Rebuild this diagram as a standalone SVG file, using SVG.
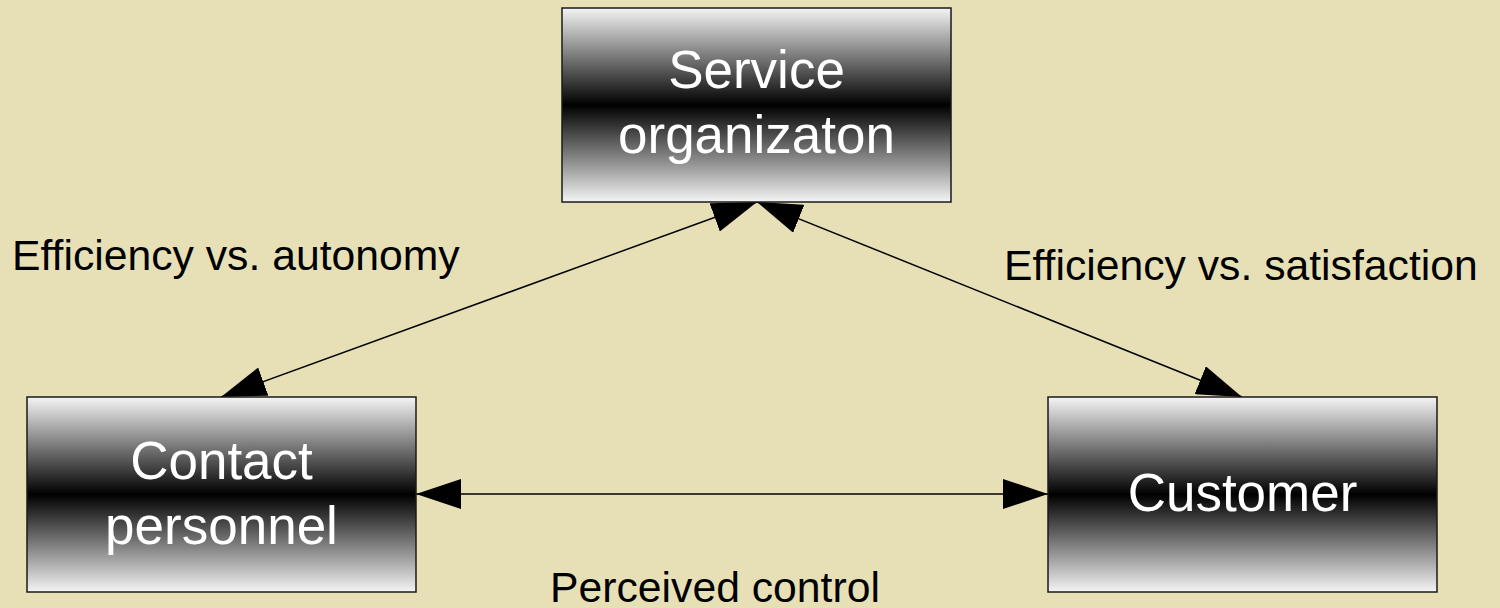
<svg xmlns="http://www.w3.org/2000/svg" width="1500" height="608" viewBox="0 0 1500 608">
  <defs>
    <linearGradient id="boxFill" x1="0" y1="0" x2="0" y2="1">
      <stop offset="0" stop-color="#f4f4f4"/>
      <stop offset="0.5" stop-color="#000000"/>
      <stop offset="1" stop-color="#f4f4f4"/>
    </linearGradient>
    <marker id="arrow" markerUnits="userSpaceOnUse" markerWidth="45" markerHeight="30" refX="45" refY="15" orient="auto-start-reverse">
      <path d="M0,0 L45,15 L0,30 Z" fill="#000"/>
    </marker>
    <style>
      .box { fill: url(#boxFill); stroke: #1a1a1a; stroke-width: 1.5; }
      .node-text { font-family: "Liberation Sans", Arial, sans-serif; font-size: 53px; fill: #ffffff; text-anchor: middle; }
      .label { font-family: "Liberation Sans", Arial, sans-serif; font-size: 42.7px; fill: #000000; }
      .link { stroke: #000; stroke-width: 1.5; fill: none; marker-start: url(#arrow); marker-end: url(#arrow); }
    </style>
  </defs>

  <rect x="0" y="0" width="1500" height="608" fill="#e7e0b6"/>

  <!-- connectors -->
  <g id="connectors">
    <line class="link" x1="221" y1="397" x2="757" y2="202"/>
    <line class="link" x1="757" y1="202" x2="1242" y2="397"/>
    <line class="link" x1="416" y1="494" x2="1048" y2="494"/>
  </g>

  <!-- nodes -->
  <g id="service-organization">
    <rect class="box" x="562" y="8" width="389" height="194"/>
    <text class="node-text" x="756.5" y="88">Service</text>
    <text class="node-text" x="756.5" y="153">organizaton</text>
  </g>
  <g id="contact-personnel">
    <rect class="box" x="27" y="397" width="389" height="195"/>
    <text class="node-text" x="221.5" y="479">Contact</text>
    <text class="node-text" x="221.5" y="544">personnel</text>
  </g>
  <g id="customer">
    <rect class="box" x="1048" y="397" width="389" height="195"/>
    <text class="node-text" x="1242.5" y="511">Customer</text>
  </g>

  <!-- relation labels -->
  <g id="labels">
    <text class="label" x="12" y="270">Efficiency vs. autonomy</text>
    <text class="label" x="1004" y="280">Efficiency vs. satisfaction</text>
    <text class="label" x="715" y="602" text-anchor="middle">Perceived control</text>
  </g>
</svg>
